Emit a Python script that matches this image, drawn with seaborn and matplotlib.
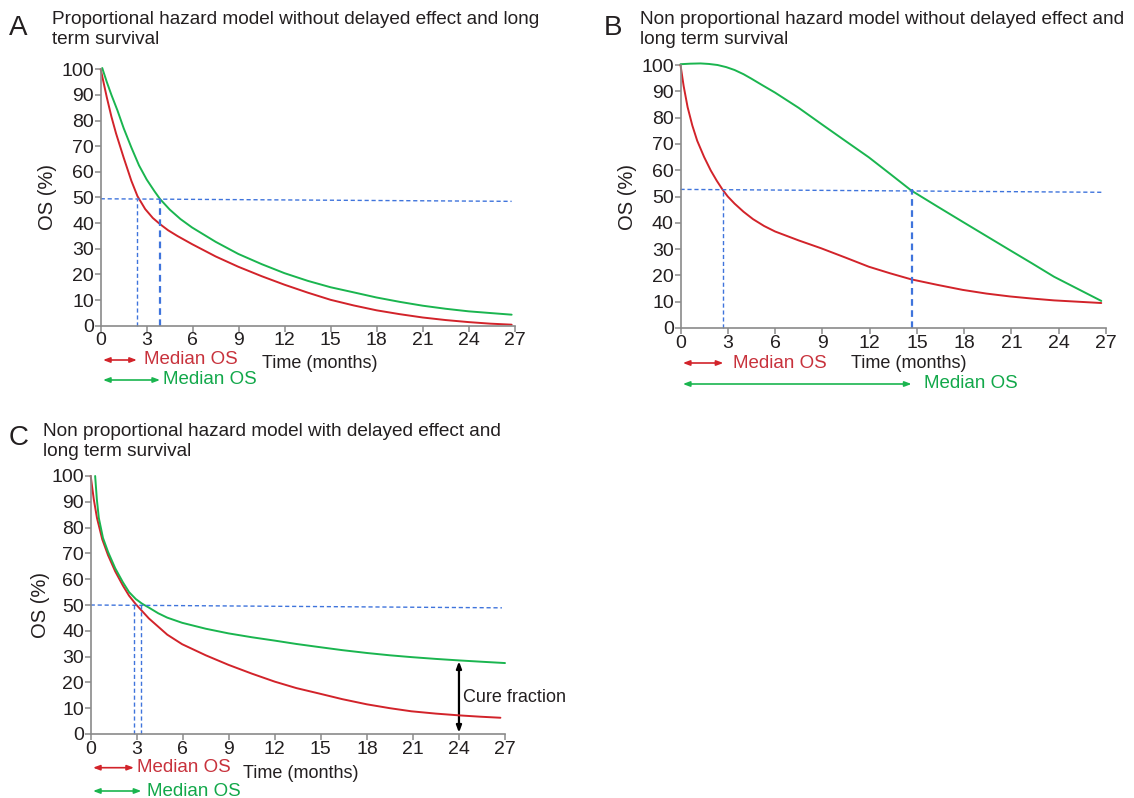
import numpy as np
import pandas as pd
import matplotlib
matplotlib.use("Agg")
import matplotlib.pyplot as plt
import seaborn as sns
from matplotlib.patches import FancyArrowPatch

# ---------------- data ----------------
a_time_red = [0, 0.2, 0.4, 0.7, 1.0, 1.5, 2.0, 2.4, 2.9, 3.4, 3.87, 4.4, 5.0, 5.96, 7.5, 8.97, 10.5,
              11.98, 13.5, 14.99, 16.5, 17.99, 19.5, 21.0, 22.5, 24.0, 25.4, 26.8]
a_os_red = [100, 94.5, 89, 81.5, 75, 65.5, 56.5, 50.5, 45.5, 42, 39.6, 37.2, 35, 31.8, 27, 23, 19.3,
            16, 12.9, 10.1, 7.9, 6.0, 4.5, 3.2, 2.2, 1.4, 0.8, 0.4]
a_time_green = [0.1, 0.4, 0.7, 1.09, 1.5, 2.0, 2.5, 3.0, 3.5, 3.87, 4.5, 5.2, 5.96, 7.5, 8.97,
                10.5, 11.98, 13.5, 14.99, 16.5, 17.99, 19.5, 21.0, 22.5, 24.0, 25.5, 26.8]
a_os_green = [100.5, 95, 90, 84, 77, 69.5, 62.5, 57, 52.5, 49.4, 45.3, 41.6, 38.3, 32.7, 28,
              24, 20.5, 17.5, 15, 13, 11, 9.3, 7.8, 6.6, 5.6, 4.9, 4.3]

b_time_red = [0, 0.2, 0.45, 0.75, 1.06, 1.5, 1.92, 2.3, 2.67, 3.0, 3.43, 4.0, 4.6, 5.3, 6.0,
              7.5, 8.93, 10.5, 11.95, 13.3, 14.64, 16.3, 17.9, 19.4, 20.9, 22.3, 23.7, 25.2, 26.7]
b_os_red = [100, 92, 84, 77, 71.2, 65, 59.9, 56, 52.6, 50, 47.3, 44.2, 41.4, 38.8, 36.7,
            33.3, 30.3, 26.7, 23.3, 20.8, 18.5, 16.4, 14.5, 13.1, 12, 11.2, 10.5, 10, 9.5]
b_time_green = [0, 0.6, 1.27, 1.8, 2.35, 2.9, 3.43, 4.0, 4.5, 5.2, 6.0, 7.5, 8.93, 10.4,
                11.95, 13.3, 14.64, 16.3, 17.9, 19.4, 20.9, 22.3, 23.7, 25.2, 26.7]
b_os_green = [100.3, 100.5, 100.6, 100.4, 100, 99.2, 98.1, 96.5, 94.8, 92.3, 89.5, 83.7, 77.6,
              71.4, 64.9, 58.6, 52.3, 46.2, 40.4, 35, 29.6, 24.6, 19.5, 14.9, 10.3]

c_time_red = [0, 0.2, 0.41, 0.75, 1.13, 1.6, 2.1, 2.5, 2.94, 3.79, 4.99, 5.96, 7.5, 8.98, 10.5,
              11.99, 13.4, 14.88, 16.4, 18.0, 19.5, 20.9, 22.5, 24.06, 25.4, 26.7]
c_os_red = [100, 91, 83.7, 75.5, 69.3, 63, 57.5, 53.6, 50.3, 44.8, 38.5, 34.8, 30.5, 26.8, 23.4,
            20.3, 17.8, 15.7, 13.5, 11.5, 10, 8.8, 7.9, 7.2, 6.7, 6.3]
c_time_green = [0.29, 0.4, 0.53, 0.8, 1.13, 1.6, 2.1, 2.5, 2.94, 3.35, 3.79, 4.4, 4.99, 5.96,
                7.5, 8.98, 10.5, 11.99, 13.4, 14.88, 16.4, 18.0, 19.5, 20.9, 22.5, 24.06, 25.5, 27.0]
c_os_green = [100, 91, 83.7, 76, 70.6, 64.2, 58.8, 55, 52.3, 50.5, 49, 46.8, 45.1, 43.1,
              40.8, 39, 37.5, 36.2, 34.9, 33.7, 32.5, 31.4, 30.5, 29.8, 29.1, 28.5, 28, 27.5]

# median reference lines: (start level, end level), median times
a_hline = (49.5, 48.5)
a_medians = [2.36, 3.87]
b_hline = (52.7, 51.6)
b_medians = [2.72, 14.66]
c_hline = (50.0, 48.9)
c_medians = [2.82, 3.3]
cure_x = 24
cure_range = (0.5, 28.2)

titles = [
    ["Proportional hazard model without delayed effect and long", "term survival"],
    ["Non proportional hazard model without delayed effect and", "long term survival"],
    ["Non proportional hazard model with delayed effect and", "long term survival"],
]
letters = ["A", "B", "C"]
x_ticks = list(range(0, 28, 3))
y_ticks = list(range(0, 101, 10))

# ---------------- style ----------------
sns.set_style("ticks")
plt.rcParams["font.family"] = ["Liberation Sans", "DejaVu Sans"]

RED = "#d2232a"
RED_TXT = "#c8323c"
GREEN = "#1ab54f"
GREEN_TXT = "#12a84a"
BLUE = "#3f74dc"
GREY = "#8a8a8a"
TXT = "#231f20"

W, H = 1134, 798
fig = plt.figure(figsize=(W / 100, H / 100), dpi=100)

# axes pixel boxes: left, right, top(y=100), bottom(y=0)
boxes = [
    (100.7, 514.7, 69.3, 325.7),
    (680.5, 1106.0, 65.0, 328.0),
    (90.7, 505.0, 476.0, 734.0),
]


def make_ax(box):
    l, r, t, b = box
    return fig.add_axes([l / W, 1 - b / H, (r - l) / W, (b - t) / H])


def fy(box, py):
    l, r, t, b = box
    return (b - py) / (b - t)


def fx(box, px):
    l, r, t, b = box
    return (px - l) / (r - l)


panels = [
    (a_time_red, a_os_red, a_time_green, a_os_green, a_hline, a_medians),
    (b_time_red, b_os_red, b_time_green, b_os_green, b_hline, b_medians),
    (c_time_red, c_os_red, c_time_green, c_os_green, c_hline, c_medians),
]

arrow_y = [(360, 380), (363, 384), (767.7, 791)]
red_txt_x = [144, 733, 136.7]
green_txt_x = [163, 924, 146.7]
time_lbl = [(262, 364), (851, 364), (243, 773)]
ylab_right = [57, 637, 50]
title_pos = [(52, 20, 39), (640, 20, 39), (43, 432, 451)]
letter_pos = [(9, 28), (604, 28), (9, 438)]

for i, (tr, osr, tg, osg, hl, med) in enumerate(panels):
    box = boxes[i]
    ax = make_ax(box)
    df = pd.concat([
        pd.DataFrame({"time": tr, "os": osr, "arm": "red"}),
        pd.DataFrame({"time": tg, "os": osg, "arm": "green"}),
    ])
    sns.lineplot(data=df, x="time", y="os", hue="arm", palette={"red": RED, "green": GREEN},
                 ax=ax, legend=False, linewidth=1.4, sort=True, estimator=None)
    for ln in ax.lines:
        ln.set_clip_on(False)
        ln.set_solid_joinstyle("round")
    ax.set_xlim(0, 27)
    ax.set_ylim(0, 100)
    ax.set_xticks(x_ticks)
    ax.set_yticks(y_ticks)
    sns.despine(ax=ax)
    for s in ["left", "bottom"]:
        ax.spines[s].set_color(GREY)
        ax.spines[s].set_linewidth(1.2)
    ax.tick_params(axis="both", colors=GREY, labelcolor=TXT, labelsize=14, length=4, width=1.1, pad=0.8)
    ax.set_xlabel("")
    ax.set_ylabel("OS (%)", fontsize=14.5, color=TXT)
    ax.yaxis.set_label_coords(fx(box, ylab_right[i]), 0.5)

    # dashed median lines
    ax.plot([0, 26.8], list(hl), ls=(0, (3, 2)), color=BLUE, lw=1.0, clip_on=False)
    for j, m in enumerate(med):
        lvl = hl[0]
        ax.plot([m, m], [0, lvl], ls=(0, (3, 2)), color=BLUE,
                lw=1.6 if (i < 2 and j == 1) else 1.0, clip_on=False)

    # median arrows below axis
    trans = ax.get_xaxis_transform()
    ry, gy = arrow_y[i]
    for (y_px, m, col, tx, tcol) in [
        (ry, med[0], RED, red_txt_x[i], RED_TXT),
        (gy, med[1], GREEN, green_txt_x[i], GREEN_TXT),
    ]:
        yy = fy(box, y_px)
        arr = FancyArrowPatch((0.15, yy), (m, yy), transform=trans,
                              arrowstyle="<|-|>,head_length=4,head_width=1.5",
                              color=col, lw=1.2, clip_on=False, mutation_scale=1,
                              shrinkA=0, shrinkB=0)
        ax.add_patch(arr)
        ax.text(fx(box, tx), yy, "Median OS", transform=ax.transAxes, color=tcol,
                fontsize=13.5, va="center", ha="left", clip_on=False)

    tx, ty = time_lbl[i]
    ax.text(fx(box, tx), fy(box, ty), "Time (months)", transform=ax.transAxes,
            color=TXT, fontsize=13, va="center", ha="left")

    # titles
    px, py1, py2 = title_pos[i]
    fig.text(px / W, 1 - py1 / H, titles[i][0], fontsize=13.7, color=TXT, va="center", ha="left")
    fig.text(px / W, 1 - py2 / H, titles[i][1], fontsize=13.7, color=TXT, va="center", ha="left")
    lx, ly = letter_pos[i]
    fig.text(lx / W, 1 - ly / H, letters[i], fontsize=20, color=TXT, va="center", ha="left")

    if i == 2:
        arr = FancyArrowPatch((cure_x, cure_range[0]), (cure_x, cure_range[1]),
                              arrowstyle="<|-|>,head_length=4,head_width=1.5",
                              color="black", lw=1.6, mutation_scale=1, clip_on=False,
                              shrinkA=0, shrinkB=0)
        ax.add_patch(arr)
        ax.text(fx(box, 462.7), fy(box, 698), "Cure fraction", transform=ax.transAxes,
                fontsize=13, color=TXT, va="center", ha="left")

fig.savefig("out.png", dpi=100)
